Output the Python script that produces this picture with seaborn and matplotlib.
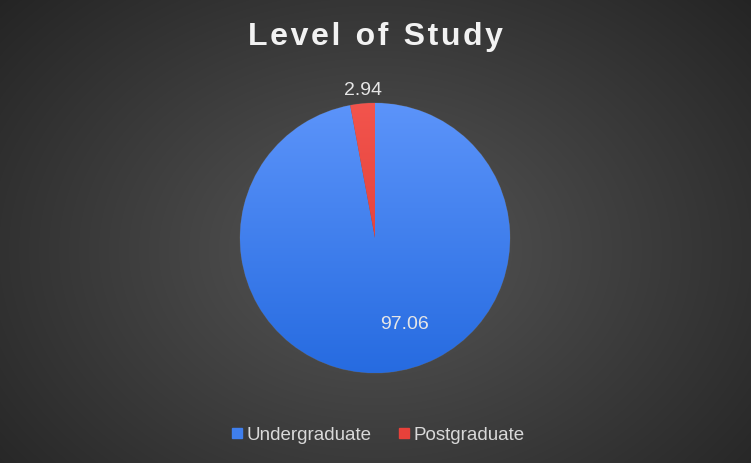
import numpy as np
import matplotlib
matplotlib.use("Agg")
import matplotlib.pyplot as plt
import seaborn as sns

levels = ["Undergraduate", "Postgraduate"]
shares = [97.06, 2.94]
label_text = ["97.06", "2.94"]
slice_colors = ["#3f7fee", "#e8413a"]
title = "Level of Study"

sns.set_theme(style="white")
plt.rcParams["font.family"] = ["Liberation Sans", "DejaVu Sans"]

fig = plt.figure(figsize=(7.51, 4.63), dpi=100)

# radial gradient background
bg = fig.add_axes([0, 0, 1, 1], zorder=0)
yy, xx = np.mgrid[0:463, 0:751]
d = np.sqrt(((xx - 375) / 560) ** 2 + ((yy - 250) / 420) ** 2)
shade = np.clip(0.34 - 0.22 * d, 0.13, 0.36)
bg.imshow(np.dstack([shade] * 3), aspect="auto", extent=[0, 1, 0, 1])
bg.axis("off")

ax = fig.add_axes([(375 - 135) / 751, 1 - 373 / 463, 270 / 751, 270 / 463], zorder=1)
ax.set_facecolor("none")
wedges, _ = ax.pie(shares, colors=slice_colors, startangle=90, counterclock=False,
                   radius=1, wedgeprops=dict(linewidth=0.6, edgecolor="#5a5a5a"))
ax.set_xlim(-1, 1)
ax.set_ylim(-1, 1)
ax.set_aspect("auto")

# vertical gradients inside slices
grad = np.linspace(0, 1, 256)[:, None]
blue_top = np.array([0.36, 0.58, 0.98])
blue_bot = np.array([0.15, 0.42, 0.88])
red_top = np.array([0.95, 0.33, 0.30])
red_bot = np.array([0.85, 0.20, 0.18])
for w, top, bot in [(wedges[0], blue_top, blue_bot), (wedges[1], red_top, red_bot)]:
    img = top[None, None, :] * (1 - grad[..., None]) + bot[None, None, :] * grad[..., None]
    img = np.repeat(img, 4, axis=1)
    im = ax.imshow(img, extent=[-1, 1, -1, 1], aspect="auto", zorder=w.get_zorder() + 0.1)
    im.set_clip_path(w)

# data labels
ax.text(0.215, -0.64, label_text[0], ha="center", va="center", fontsize=14, color="#e6e6e6", zorder=5)
ax.text(-0.09, 1.09, label_text[1], ha="center", va="center", fontsize=14, color="#e6e6e6", zorder=5)

# letter-spaced bold title
spaced = "\u200a".join(title).replace("\u200a \u200a", " \u2009")
fig.text(0.5, 1 - 37 / 463, spaced, ha="center", va="center", fontsize=23,
         fontweight="bold", color="#f2f2f2")

handles = [plt.Line2D([], [], marker="s", linestyle="", markersize=7, color=c) for c in slice_colors]
fig.legend(handles, levels, loc="center", bbox_to_anchor=(0.502, 1 - 435 / 463), ncol=2,
           frameon=False, fontsize=13.5, labelcolor="#d9d9d9", handletextpad=0.1,
           columnspacing=1.3, handlelength=0.8)

fig.savefig("out.png", dpi=100)
